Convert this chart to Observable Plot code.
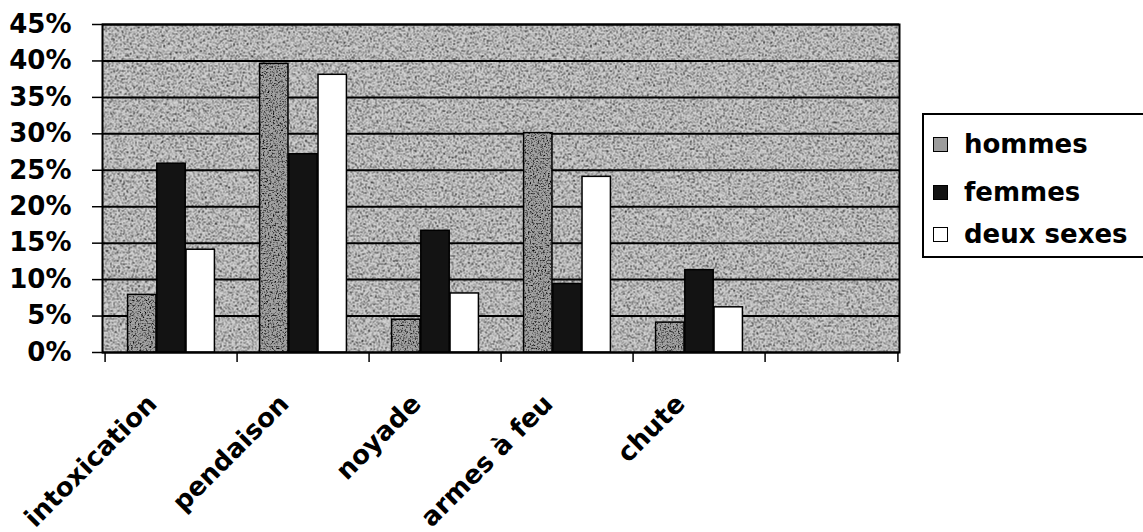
<!DOCTYPE html>
<html><head><meta charset="utf-8">
<script src="https://cdn.jsdelivr.net/npm/d3@7"></script>
<script src="https://cdn.jsdelivr.net/npm/@observablehq/plot@0.6"></script>
<style>
body{margin:0;background:#fff;}
#wrap{position:relative;width:1143px;height:532px;overflow:hidden;font-family:"DejaVu Sans",sans-serif;font-weight:bold;}
#legend{position:absolute;left:922px;top:113px;width:260px;height:145px;border:2px solid #000;box-sizing:border-box;background:#fff;}
.item{position:absolute;left:9px;display:flex;align-items:center;font-size:26px;line-height:30px;color:#000;}
.sw{width:13px;height:13px;border:1.5px solid #000;margin-right:16px;}
</style></head>
<body>
<div id="wrap"><div id="chart"></div><div id="legend"></div></div>
<script>
// ---- data ----
const categories = ["intoxication", "pendaison", "noyade", "armes à feu", "chute"];
const slots = [...categories, ""];           // the axis has one empty slot at the end
const seriesNames = ["hommes", "femmes", "deux sexes"];
const hommes    = [7.9, 39.6, 4.5, 30.1, 4.1];
const femmes    = [25.9, 27.2, 16.7, 9.4, 11.3];
const deuxSexes = [14.1, 38.1, 8.1, 24.1, 6.2];
const yTicks = [0, 5, 10, 15, 20, 25, 30, 35, 40, 45];

// ---- styles ----
const seriesFills = ["url(#patH)", "#131313", "#ffffff"];
const legendFills = ["#9c9c9c", "#131313", "#ffffff"];

const seriesValues = [hommes, femmes, deuxSexes];
const rows = seriesNames.flatMap((s, i) => categories.map((c, j) => ({cat: c, series: s, value: seriesValues[i][j]})));

const W = 1143, H = 532, mL = 102, mR = 244, mT = 24, mB = 180;
const step = (W - mL - mR) / slots.length;
const pad = step * 0.17, bw = (step - 2 * pad) / 3;

const plot = Plot.plot({
  width: W, height: H,
  marginLeft: mL, marginRight: mR, marginTop: mT, marginBottom: mB,
  style: {fontFamily: "DejaVu Sans, sans-serif", fontWeight: "bold", color: "#000", background: "transparent", overflow: "visible"},
  x: {type: "band", domain: slots, padding: 0},
  y: {domain: [0, 45]},
  marks: [
    Plot.frame({fill: "url(#patBg)"}),
    Plot.gridY(yTicks, {stroke: "#000", strokeOpacity: 1, strokeWidth: 2}),
    ...seriesNames.map((s, i) => Plot.barY(rows.filter(d => d.series === s), {
      x: "cat", y: "value", fill: seriesFills[i], stroke: "#000", strokeWidth: 1.5,
      insetLeft: pad + i * bw, insetRight: step - pad - (i + 1) * bw
    })),
    Plot.frame({stroke: "#000", strokeWidth: 2}),
    Plot.axisY(yTicks, {tickFormat: d => d + "%", tickSize: 10, tickPadding: 21, fontSize: 26, label: null, strokeWidth: 1.5}),
    Plot.axisX(slots, {tickFormat: null, tickSize: 10, dx: -step / 2, label: null, strokeWidth: 1.5}),
    Plot.axisX([""], {tickFormat: null, tickSize: 10, dx: step / 2, label: null, strokeWidth: 1.5}),
    Plot.axisX(categories, {tickSize: 0, tickRotate: -45, tickPadding: 47, dx: -19, fontSize: 26, label: null})
  ]
});

const defs = document.createElementNS("http://www.w3.org/2000/svg", "defs");
defs.innerHTML = `
<filter id="grain" color-interpolation-filters="sRGB">
  <feTurbulence type="fractalNoise" baseFrequency="0.6" numOctaves="2" seed="4" result="n"/>
  <feColorMatrix in="n" type="saturate" values="0" result="g"/>
  <feComponentTransfer in="g" result="m">
    <feFuncR type="linear" slope="3.6" intercept="-0.88"/>
    <feFuncG type="linear" slope="3.6" intercept="-0.88"/>
    <feFuncB type="linear" slope="3.6" intercept="-0.88"/>
    <feFuncA type="linear" slope="0" intercept="1"/>
  </feComponentTransfer>
  <feBlend in="SourceGraphic" in2="m" mode="multiply" result="b"/>
  <feComposite in="b" in2="SourceGraphic" operator="in"/>
</filter>
<pattern id="patBg" patternUnits="userSpaceOnUse" width="${W}" height="${H}">
  <rect width="${W}" height="${H}" fill="#d2d2d2" filter="url(#grain)"/>
</pattern>
<pattern id="patH" patternUnits="userSpaceOnUse" width="${W}" height="${H}">
  <rect width="${W}" height="${H}" fill="#a2a2a2" filter="url(#grain)"/>
</pattern>`;
plot.insertBefore(defs, plot.firstChild);
document.getElementById("chart").appendChild(plot);

const legend = document.getElementById("legend");
const legendTops = [14, 62, 104];
seriesNames.forEach((s, i) => {
  const it = document.createElement("div");
  it.className = "item";
  it.style.top = legendTops[i] + "px";
  const sw = document.createElement("div");
  sw.className = "sw";
  sw.style.background = legendFills[i];
  it.appendChild(sw);
  it.appendChild(document.createTextNode(s));
  legend.appendChild(it);
});
</script>
</body></html>
